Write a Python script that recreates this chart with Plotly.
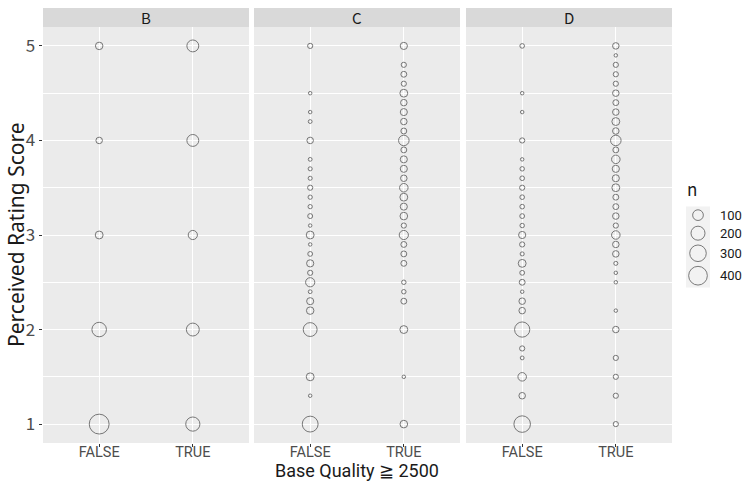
import numpy as np
import plotly.graph_objects as go

# ---- data: rating score vs. number of raters, per base group ----
facets = ["B", "C", "D"]
groups = ["FALSE", "TRUE"]

b_false_score = [1.0, 2.0, 3.0, 4.0, 5.0]
b_false_n = [460, 218, 42, 23, 36]
b_true_score = [1.0, 2.0, 3.0, 4.0, 5.0]
b_true_n = [207, 163, 66, 132, 132]

c_false_score = [1.0, 1.3, 1.5, 2.0, 2.2, 2.3, 2.4, 2.5, 2.6, 2.7, 2.8, 2.9, 3.0,
                 3.1, 3.2, 3.3, 3.4, 3.5, 3.6, 3.7, 3.8, 4.0, 4.2, 4.3, 4.5, 5.0]
c_false_n = [271, 1, 42, 195, 36, 30, 2, 66, 10, 32, 7, 1, 42,
             1, 8, 4, 4, 10, 3, 3, 2, 23, 2, 1, 1, 10]
c_true_score = [1.0, 1.5, 2.0, 2.3, 2.4, 2.5, 2.7, 2.8, 2.9, 3.0, 3.1, 3.2, 3.3,
                3.4, 3.5, 3.6, 3.7, 3.8, 3.9, 4.0, 4.1, 4.2, 4.3, 4.4, 4.5, 4.6,
                4.7, 4.8, 5.0]
c_true_n = [38, 1, 42, 16, 5, 5, 16, 16, 16, 66, 10, 38, 30,
            42, 53, 23, 30, 30, 16, 96, 16, 23, 30, 23, 42, 10,
            16, 10, 32]

d_false_score = [1.0, 1.3, 1.5, 1.7, 1.8, 2.0, 2.2, 2.3, 2.4, 2.5, 2.6, 2.7, 2.8,
                 2.9, 3.0, 3.1, 3.2, 3.3, 3.4, 3.5, 3.6, 3.7, 3.8, 4.0, 4.3, 4.5, 5.0]
d_false_n = [299, 23, 53, 2, 10, 245, 23, 23, 1, 16, 7, 42, 3,
             10, 32, 5, 7, 6, 6, 10, 6, 5, 1, 10, 1, 1, 6]
d_true_score = [1.0, 1.3, 1.5, 1.7, 2.0, 2.2, 2.5, 2.6, 2.7, 2.8, 2.9, 3.0, 3.1,
                3.2, 3.3, 3.4, 3.5, 3.6, 3.7, 3.8, 3.9, 4.0, 4.1, 4.2, 4.3, 4.4,
                4.5, 4.6, 4.7, 4.8, 4.9, 5.0]
d_true_n = [10, 10, 10, 10, 23, 1, 1, 1, 3, 23, 23, 53, 10,
            23, 16, 16, 42, 30, 32, 53, 16, 96, 23, 42, 23, 16,
            23, 10, 10, 10, 1, 23]

legend_breaks = [100, 200, 300, 400]
y_ticks = [1, 2, 3, 4, 5]

panels = {
    "B": [(b_false_score, b_false_n), (b_true_score, b_true_n)],
    "C": [(c_false_score, c_false_n), (c_true_score, c_true_n)],
    "D": [(d_false_score, d_false_n), (d_true_score, d_true_n)],
}

# ---- style ----
W, H = 746, 481
FONT = "Noto Sans CJK JP"
TITLE_FONT = "Noto Sans"
NARROW_FONT = "Roboto"
PANEL_BG = "#EBEBEB"
STRIP_BG = "#D9D9D9"
AXIS_TXT = "#4D4D4D"
STROKE = "#333333"


def size_scale(n):
    """Area-style size scale: marker diameter in px grows with sqrt(n)."""
    return 3.5 + 0.8 * np.sqrt(np.asarray(n, dtype=float))


# panel geometry in pixels (left, right) and vertical extent
panel_x = [(43, 249), (254, 460), (466, 672)]
panel_top, panel_bottom = 27, 443
strip_top = 8


def px_x(v):
    return v / W


def px_y(v):
    return 1 - v / H


fig = go.Figure()
shapes = []
annotations = []

for i, facet in enumerate(facets):
    ax = "" if i == 0 else str(i + 1)
    xref, yref = "x" + ax, "y" + ax
    for g, (scores, counts) in zip(groups, panels[facet]):
        fig.add_trace(go.Scatter(
            x=[g] * len(scores), y=scores, mode="markers",
            xaxis=xref, yaxis=yref, showlegend=False,
            marker=dict(size=size_scale(counts) - 0.8, color="rgba(0,0,0,0)",
                        line=dict(color=STROKE, width=0.9)),
            hovertemplate=f"{facet} / {g}<br>score=%{{y}}<br>n=%{{customdata}}<extra></extra>",
            customdata=counts,
        ))
    l, r = panel_x[i]
    fig.layout["xaxis" + ax] = dict(
        domain=[px_x(l), px_x(r)], anchor=yref, type="category",
        categoryorder="array", categoryarray=groups, range=[-0.6, 1.6],
        showgrid=True, gridcolor="white", gridwidth=1.07, zeroline=False,
        ticks="outside", ticklen=3, tickcolor="#333333", tickwidth=1,
        ticklabelstandoff=-7,
        tickfont=dict(family=NARROW_FONT, size=14.5, color=AXIS_TXT), showline=False,
    )
    fig.layout["yaxis" + ax] = dict(
        domain=[px_y(panel_bottom), px_y(panel_top)], anchor=xref,
        range=[0.8, 5.2], tickvals=y_ticks, showgrid=True, gridcolor="white",
        gridwidth=1.07, zeroline=False,
        minor=dict(dtick=0.5, tick0=1, showgrid=True, gridcolor="white",
                   gridwidth=0.53, ticks=""),
        ticks="outside" if i == 0 else "", ticklen=3.5, tickcolor="#333333",
        tickwidth=1, showticklabels=(i == 0),
        tickfont=dict(family=FONT, size=17, color=AXIS_TXT), showline=False,
    )
    # panel background and facet strip
    shapes.append(dict(type="rect", xref="paper", yref="paper", layer="below",
                       x0=px_x(l), x1=px_x(r), y0=px_y(panel_bottom), y1=px_y(panel_top),
                       fillcolor=PANEL_BG, line=dict(width=0)))
    shapes.append(dict(type="rect", xref="paper", yref="paper", layer="below",
                       x0=px_x(l), x1=px_x(r), y0=px_y(panel_top), y1=px_y(strip_top),
                       fillcolor=STRIP_BG, line=dict(width=0)))
    annotations.append(dict(text=facet, xref="paper", yref="paper", showarrow=False,
                            x=px_x((l + r) / 2), y=px_y((strip_top + panel_top) / 2),
                            xanchor="center", yanchor="middle",
                            font=dict(family=FONT, size=15, color="#1A1A1A")))

# ---- size legend ----
key_left, key_right, key_top = 686, 710, 206.5
key_d = size_scale(legend_breaks)
key_h = np.maximum(17.28, key_d + 4)
key_bottom = key_top + key_h.sum()
key_centres = np.cumsum(key_h) - key_h / 2

fig.add_trace(go.Scatter(
    x=[0] * len(legend_breaks), y=key_centres, mode="markers",
    xaxis="x4", yaxis="y4", showlegend=False, hoverinfo="skip",
    marker=dict(size=key_d - 0.8, color="rgba(0,0,0,0)",
                line=dict(color=STROKE, width=0.9)),
))
fig.layout["xaxis4"] = dict(domain=[px_x(key_left), px_x(key_right)], anchor="y4",
                            range=[-1, 1], visible=False)
fig.layout["yaxis4"] = dict(domain=[px_y(key_bottom), px_y(key_top)], anchor="x4",
                            range=[key_h.sum(), 0], visible=False)
shapes.append(dict(type="rect", xref="paper", yref="paper", layer="below",
                   x0=px_x(key_left), x1=px_x(key_right),
                   y0=px_y(key_bottom), y1=px_y(key_top),
                   fillcolor="#F2F2F2", line=dict(width=0)))
for b, yc in zip(legend_breaks, key_centres):
    annotations.append(dict(text=str(b), xref="paper", yref="y4", x=px_x(718), y=yc,
                            xanchor="left", yanchor="middle", showarrow=False,
                            font=dict(family=NARROW_FONT, size=13, color="#1A1A1A")))
annotations.append(dict(text="n", xref="paper", yref="paper", x=px_x(685), y=px_y(189),
                        xanchor="left", yanchor="middle", showarrow=False,
                        font=dict(family=FONT, size=17, color="#1A1A1A")))

# ---- axis titles ----
annotations.append(dict(text="Base Quality ≧ 2500", xref="paper", yref="paper",
                        x=px_x(357), y=px_y(470.5), xanchor="center", yanchor="middle",
                        showarrow=False, borderpad=0,
                        font=dict(family=NARROW_FONT, size=18, color="#1A1A1A")))
annotations.append(dict(text="Perceived Rating Score", xref="paper", yref="paper",
                        x=px_x(16), y=px_y(235), xanchor="center", yanchor="middle",
                        textangle=-90, showarrow=False,
                        font=dict(family=TITLE_FONT, size=21, color="#1A1A1A")))

fig.update_layout(
    width=W, height=H, margin=dict(l=0, r=0, t=0, b=0),
    paper_bgcolor="white", plot_bgcolor="rgba(0,0,0,0)",
    shapes=shapes, annotations=annotations, showlegend=False,
    font=dict(family=FONT),
)

fig.write_html("out.html")
